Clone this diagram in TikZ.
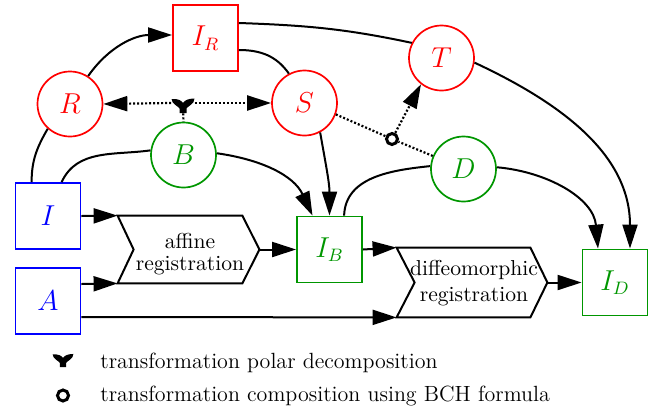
\documentclass[tikz,border=0pt]{standalone}
\usetikzlibrary{arrows.meta,calc}
\definecolor{dgreen}{RGB}{0,150,0}
\begin{document}
\begin{tikzpicture}[x=0.5pt,y=0.5pt,
  box/.style={draw,line width=0.9pt,minimum width=32.5pt,minimum height=33pt,inner sep=0pt,font=\fontsize{13.5}{16}\selectfont},
  circ/.style={draw,circle,line width=0.85pt,minimum size=32.5pt,inner sep=0pt,font=\fontsize{13.5}{16}\selectfont},
  arr/.style={-{Triangle[length=12pt,width=7.5pt]}},
  ln/.style={line width=1pt},
  con/.style={ln,arr},
  dotl/.style={line width=1.1pt,dash pattern=on 1pt off 1pt},
  cmpc/.style={circle,draw,line width=1.5pt,minimum size=5.5pt,inner sep=0pt,fill=white},
  regtext/.style={align=center,inner sep=0pt},
  polar/.pic={\fill (-11.5,4) .. controls (-5,4.5) and (-1.5,2.5) .. (0,0) .. controls (1.5,2.5) and (5,4.5) .. (11.5,4.5) -- (10.5,1) .. controls (8,-2.5) and (4,-4) .. (3.5,-5.5) -- (3.5,-10) -- (-3.5,-10) -- (-3.5,-5.5) .. controls (-4,-4) and (-8,-2.5) .. (-10.5,1) -- cycle;}
]
\useasboundingbox (0,0) rectangle (658,-413);

% nodes
\node[box,draw=red,text=red] (IR) at (205.5,-38) {$I_R$};
\node[circ,draw=red,text=red] (R) at (70,-104) {$R$};
\node[circ,draw=red,text=red] (S) at (304.5,-103) {$S$};
\node[circ,draw=red,text=red] (T) at (441.5,-58) {$T$};
\node[circ,draw=dgreen,text=dgreen] (B) at (183.5,-155) {$B$};
\node[circ,draw=dgreen,text=dgreen] (D) at (463.5,-169) {$D$};
\node[box,draw=blue,text=blue] (I) at (48,-216) {$I$};
\node[box,draw=blue,text=blue] (A) at (48,-301) {$A$};
\node[box,draw=dgreen,text=dgreen] (IB) at (329.5,-249.5) {$I_B$};
\node[box,draw=dgreen,text=dgreen] (ID) at (615,-282.5) {$I_D$};
\node[minimum width=70.5pt,minimum height=33.5pt,inner sep=0pt] (aff) at (188.5,-249.5) {};
\node[minimum width=75pt,minimum height=34.5pt,inner sep=0pt] (dif) at (472,-282.5) {};
\node[regtext,font=\fontsize{10.8}{11}\selectfont] (afft) at (190,-254) {affine\\registration};
\node[regtext,font=\fontsize{10.8}{13}\selectfont] (dift) at (474,-283) {diffeomorphic\\registration};
\draw[line width=1pt] (aff.north west) -- ($(aff.north east)+(-17,0)$) -- (aff.east) -- ($(aff.south east)+(-17,0)$) -- (aff.south west) -- ($(aff.west)+(16,0)$) -- cycle;
\draw[line width=1pt] (dif.north west) -- ($(dif.north east)+(-17,0)$) -- (dif.east) -- ($(dif.south east)+(-17,0)$) -- (dif.south west) -- ($(dif.west)+(18,0)$) -- cycle;

\node[inner sep=0pt,minimum width=11.5pt,minimum height=6pt] (pd) at (183,-103) {};
\node[cmpc] (cmp) at (392,-139) {};

% connectors
\draw[con] (R.57) to[out=55,in=180] ([yshift=1.5pt]IR.west);
\draw[ln] ($(I.north west)+(17,0)$) to[out=90,in=240] (R.228);
\draw[ln] ([yshift=-6pt]IR.east) to[out=0,in=125] (S.118);
\draw[ln] ([yshift=7.5pt]IR.east) to[out=-2,in=168] (T.153);
\draw[con] (T.-8) to[out=-25,in=90] ($(ID.north)+(15,0)$);
\draw[con] (S.-62) to[out=-80,in=90] (IB.north);
\draw[ln] ($(I.north west)+(47,0)$) to[out=65,in=188] (B.172);
\draw[con] (B.3) to[out=-8,in=115] ($(IB.north)+(-17,0)$);
\draw[ln] ($(IB.north west)+(48,0)$) to[out=88,in=186] (D.175);
\draw[con] (D.3) to[out=-5,in=95] ($(ID.north)+(-17,0)$);
\draw[con] (I.east) -- (aff.north west);
\draw[con] ([yshift=8.5pt]A.east) -- (aff.south west);
\draw[con] ([yshift=-8pt]A.east) -- (dif.south west);
\draw[con] (aff.east) -- (IB.west);
\draw[con] (IB.east) -- (dif.north west);
\draw[con] (dif.east) -- (ID.west);

% dotted
\draw[dotl,arr] (pd.west) -- (R.east);
\draw[dotl,arr] (pd.east) -- (S.west);
\draw[dotl] (pd.south) -- (B.north);
\draw[dotl] (S.-20) -- (cmp);
\draw[dotl] (D.157) -- (cmp);
\draw[dotl,arr] (cmp) -- (T.232);
\pic at (pd.center) {polar};

% legend
\node[inner sep=0pt,minimum width=10pt,minimum height=6pt] (lpd) at (63,-358) {};
\pic[scale=0.9] at (lpd.center) {polar};
\node[cmpc] (lcmp) at (63,-395.5) {};
\node[anchor=base west,inner sep=0pt,font=\fontsize{11}{13}\selectfont] (l1) at (100,-368) {transformation polar decomposition};
\node[anchor=base west,inner sep=0pt,font=\fontsize{11}{13}\selectfont] (l2) at (100,-401) {transformation composition using BCH formula};
\end{tikzpicture}
\end{document}
